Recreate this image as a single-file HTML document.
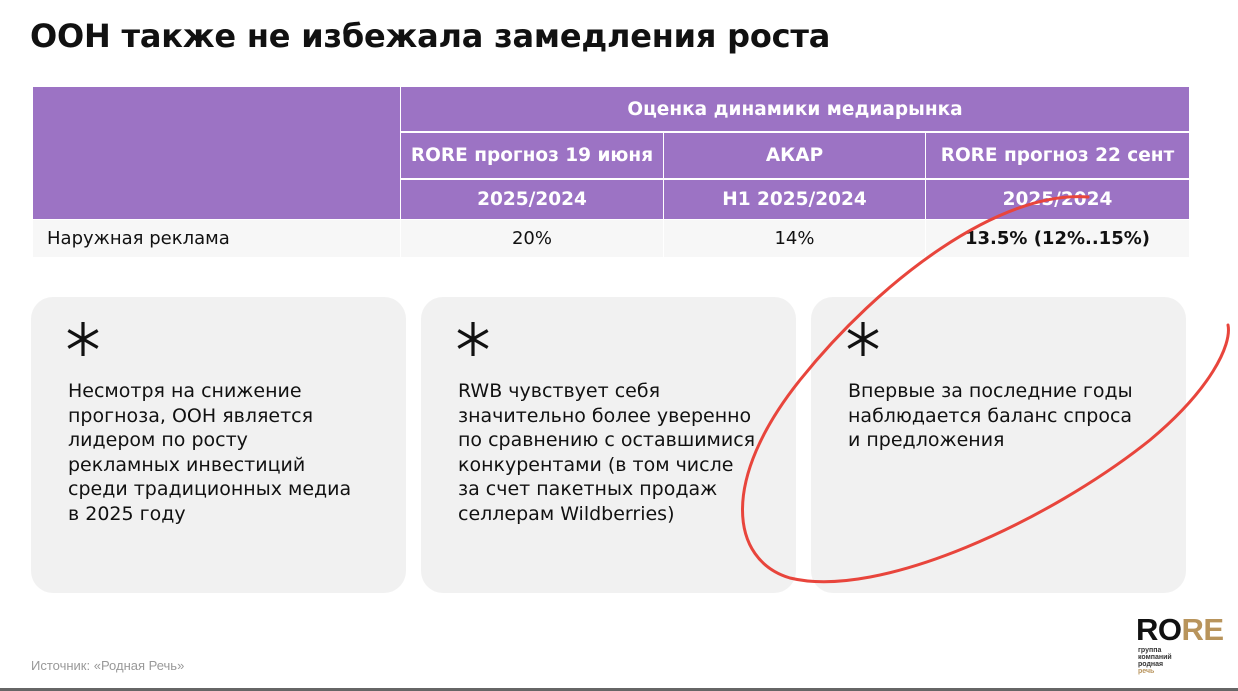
<!DOCTYPE html><html><head><meta charset="utf-8"><style>
body{margin:0;width:1238px;height:691px;background:#fff;font-family:"Liberation Sans","DejaVu Sans",sans-serif;position:relative;overflow:hidden}
.a{position:absolute}
h1{position:absolute;left:30px;top:17px;margin:0;font-size:32px;font-weight:bold;color:#111;font-family:"DejaVu Sans",sans-serif;letter-spacing:-0.2px}
.c{position:absolute;background:#f0f0f0;color:#fff;font-weight:bold;font-size:18.5px;display:flex;align-items:center;justify-content:center;font-family:"DejaVu Sans",sans-serif}
.p{background:#9c73c4}
.card{position:absolute;top:297px;height:296px;width:375px;background:#f1f1f1;border-radius:22px}
.card svg{position:absolute;left:34px;top:24px}
.card .t{position:absolute;left:37px;top:82px;font-size:19px;line-height:24.5px;color:#111;font-family:"DejaVu Sans",sans-serif}
.d{color:#111;font-weight:normal;font-size:18px;background:#f7f7f7}
</style></head><body>
<h1>ООН также не избежала замедления роста</h1>
<div class="c p" style="left:33px;top:87px;width:367px;height:132px"></div>
<div class="c p" style="left:401px;top:87px;width:788px;height:44px">Оценка динамики медиарынка</div>
<div class="c p" style="left:401px;top:133px;width:262px;height:45px;font-size:18.5px">RORE прогноз 19 июня</div>
<div class="c p" style="left:664px;top:133px;width:261px;height:45px">АКАР</div>
<div class="c p" style="left:926px;top:133px;width:263px;height:45px">RORE прогноз 22 сент</div>
<div class="c p" style="left:401px;top:180px;width:262px;height:39px">2025/2024</div>
<div class="c p" style="left:664px;top:180px;width:261px;height:39px">Н1 2025/2024</div>
<div class="c p" style="left:926px;top:180px;width:263px;height:39px">2025/2024</div>
<div class="c d" style="left:33px;top:220px;width:367px;height:37px;justify-content:flex-start;padding-left:14px;box-sizing:border-box">Наружная реклама</div>
<div class="c d" style="left:401px;top:220px;width:262px;height:37px">20%</div>
<div class="c d" style="left:664px;top:220px;width:261px;height:37px">14%</div>
<div class="c d" style="left:926px;top:220px;width:263px;height:37px;font-weight:bold">13.5% (12%..15%)</div>
<div class="card" style="left:31px"><svg width="36" height="36" viewBox="-18 -18 36 36"><g stroke="#111" stroke-width="3.2"><line x1="0" y1="-17" x2="0" y2="17"/><line x1="-14.7" y1="-8.5" x2="14.7" y2="8.5"/><line x1="-14.7" y1="8.5" x2="14.7" y2="-8.5"/></g></svg><div class="t">Несмотря на снижение<br>прогноза, ООН является<br>лидером по росту<br>рекламных инвестиций<br>среди традиционных медиа<br>в 2025 году</div></div>
<div class="card" style="left:421px"><svg width="36" height="36" viewBox="-18 -18 36 36"><g stroke="#111" stroke-width="3.2"><line x1="0" y1="-17" x2="0" y2="17"/><line x1="-14.7" y1="-8.5" x2="14.7" y2="8.5"/><line x1="-14.7" y1="8.5" x2="14.7" y2="-8.5"/></g></svg><div class="t">RWB чувствует себя<br>значительно более уверенно<br>по сравнению с оставшимися<br>конкурентами (в том числе<br>за счет пакетных продаж<br>селлерам Wildberries)</div></div>
<div class="card" style="left:811px"><svg width="36" height="36" viewBox="-18 -18 36 36"><g stroke="#111" stroke-width="3.2"><line x1="0" y1="-17" x2="0" y2="17"/><line x1="-14.7" y1="-8.5" x2="14.7" y2="8.5"/><line x1="-14.7" y1="8.5" x2="14.7" y2="-8.5"/></g></svg><div class="t">Впервые за последние годы<br>наблюдается баланс спроса<br>и предложения</div></div>
<svg class="a" style="left:0;top:0" width="1238" height="691"><path d="M1088,197 C1000,190 880,280 800,380 C720,480 730,560 790,578 C880,600 1050,520 1150,440 C1210,390 1232,345 1228,325" fill="none" stroke="#e8453c" stroke-width="3" stroke-linecap="round"/></svg>
<div class="a" style="left:31px;top:658px;font-size:13px;color:#999">Источник: «Родная Речь»</div>
<div class="a" style="left:1136px;top:612px;font-size:31px;font-weight:bold;letter-spacing:-0.5px"><span style="color:#111">RO</span><span style="color:#b8945c">RE</span></div>
<div class="a" style="left:1138px;top:647px;font-size:7px;line-height:7px;font-weight:bold;color:#333">группа<br>компаний<br>родная<br><span style="color:#b8945c">речь</span></div>
<div class="a" style="left:0;top:688px;width:1238px;height:3px;background:#666"></div>
</body></html>
